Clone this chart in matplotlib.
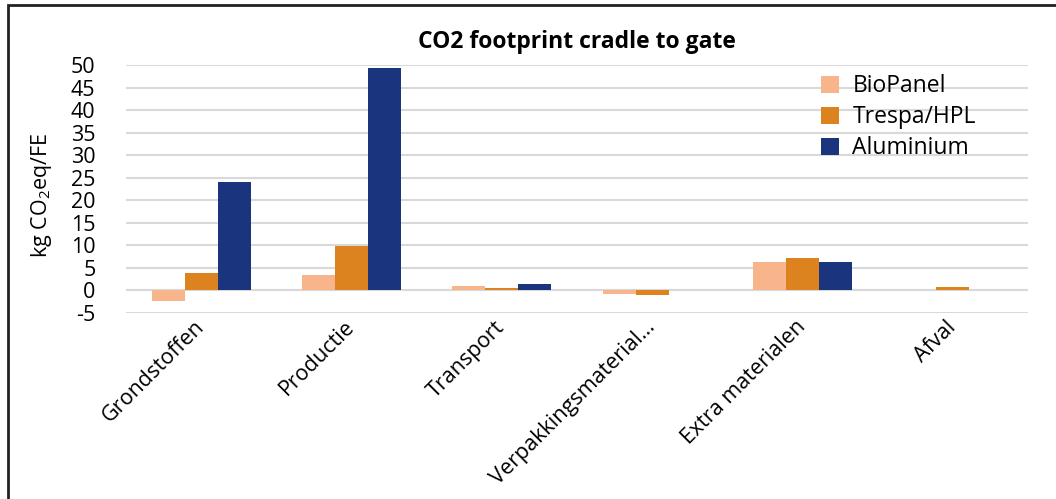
import matplotlib
matplotlib.use("Agg")
import matplotlib.pyplot as plt
import numpy as np
from matplotlib.patches import Rectangle

plt.rcParams['font.family'] = ['Open Sans', 'DejaVu Sans']
plt.rcParams['mathtext.fontset'] = 'custom'
plt.rcParams['mathtext.rm'] = 'Open Sans'
plt.rcParams['mathtext.it'] = 'Open Sans'

categories = ["Grondstoffen", "Productie", "Transport", "Verpakkingsmaterial…",
              "Extra materialen", "Afval"]
series_names = ["BioPanel", "Trespa/HPL", "Aluminium"]
biopanel = [-2.3, 3.4, 1.0, -0.8, 6.2, 0.0]
trespa = [3.9, 9.9, 0.6, -1.1, 7.2, 0.8]
aluminium = [24.1, 49.3, 1.5, 0.0, 6.2, 0.0]
yticks = list(range(-5, 55, 5))

colors = ["#F8B48A", "#DC821E", "#1B347E"]

fig = plt.figure(figsize=(10.56, 4.99), dpi=100)
ax = fig.add_axes([126 / 1056, 1 - 313 / 499, (1028 - 126) / 1056, (313 - 65) / 499])

x = np.arange(len(categories))
w = 0.22
for i, (vals, name) in enumerate(zip([biopanel, trespa, aluminium], series_names)):
    ax.bar(x + (i - 1) * w, vals, width=w, color=colors[i], label=name, zorder=3)

ax.set_xlim(-0.5, len(categories) - 0.5)
ax.set_ylim(-5, 50)
ax.set_yticks(yticks)
ax.set_yticklabels([str(t) for t in yticks], fontsize=15.5)
ax.yaxis.grid(True, color="#D9D9D9", linewidth=1.5, zorder=0)
ax.axhline(0, color="#D9D9D9", linewidth=1.5, zorder=1)
ax.tick_params(axis="both", length=0)
ax.tick_params(axis="y", pad=22)
for s in ax.spines.values():
    s.set_visible(False)

ax.set_xticks(x)
ax.set_xticklabels(categories, rotation=45, ha="right", va="center",
                   rotation_mode="anchor", fontsize=15.5)
ax.tick_params(axis="x", pad=8)

ax.set_ylabel("kg CO$_2$eq/FE", fontsize=15.5)
ax.yaxis.set_label_coords(-0.08, 0.475)

ax.set_title("CO2 footprint cradle to gate", fontsize=16.5, fontweight="bold", pad=12)

leg = ax.legend(loc="upper right", bbox_to_anchor=(0.965, 1.045), frameon=False, fontsize=16.5,
                handlelength=0.75, handleheight=0.75, handletextpad=0.6, labelspacing=0.3)

fig.patches.append(Rectangle((8 / 1056, -0.1), 1.2, 1 - 5 / 499 + 0.1, transform=fig.transFigure,
                             fill=False, edgecolor="#222222", linewidth=2))

fig.savefig("out.png", dpi=100)
